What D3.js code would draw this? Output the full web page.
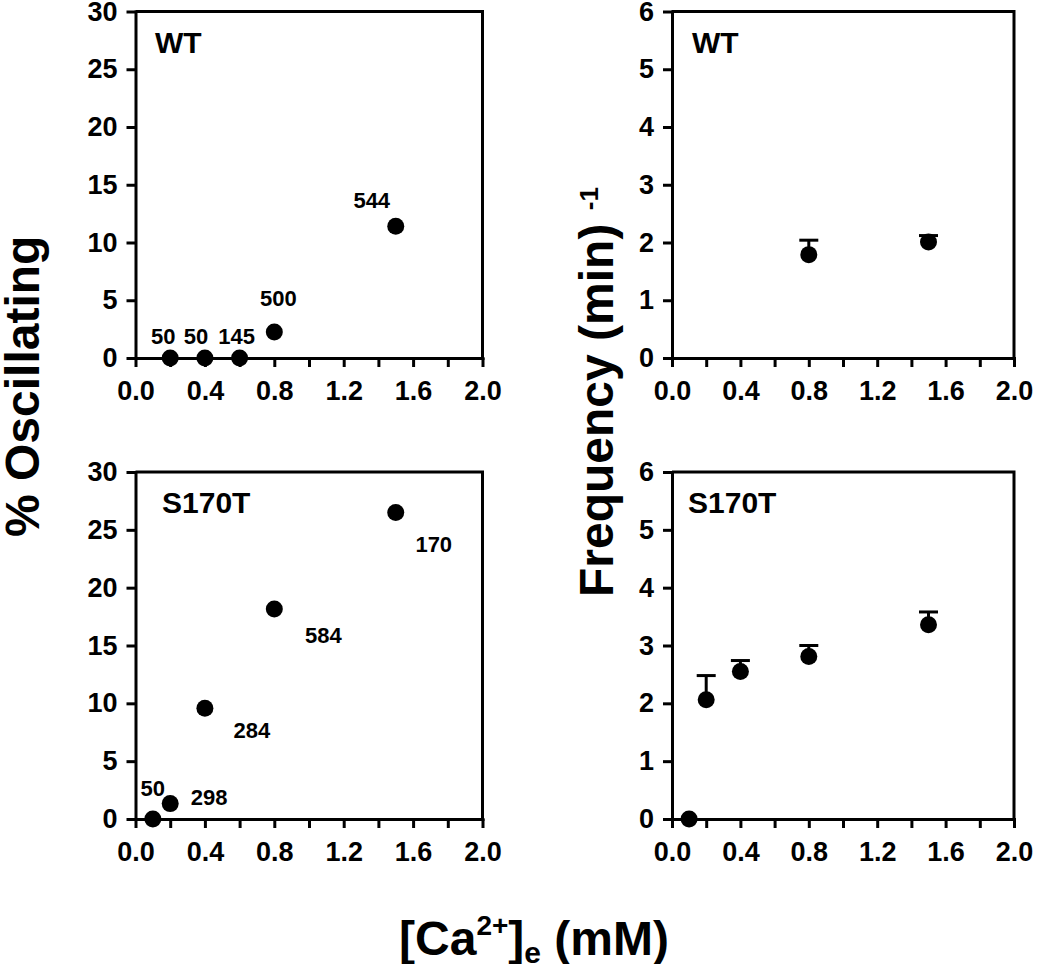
<!DOCTYPE html>
<html>
<head>
<meta charset="utf-8">
<script src="https://cdn.jsdelivr.net/npm/d3@7/dist/d3.min.js"></script>
<style>
  html, body { margin: 0; padding: 0; background: #fff; }
  svg { display: block; }
  text { font-family: "Liberation Sans", Arial, Helvetica, sans-serif; font-weight: bold; fill: #000; }
</style>
</head>
<body>
<svg id="chart" width="1050" height="964"></svg>
<script>
// ---- data ----
const xTickValues = [0, 0.2, 0.4, 0.6, 0.8, 1.0, 1.2, 1.4, 1.6, 1.8, 2.0];
const xTickLabels = ["0.0", "", "0.4", "", "0.8", "", "1.2", "", "1.6", "", "2.0"];
const pctTicks = [0, 5, 10, 15, 20, 25, 30];
const freqTicks = [0, 1, 2, 3, 4, 5, 6];

const wtPctX = [0.2, 0.4, 0.6, 0.8, 1.5];
const wtPct = [0, 0, 0, 2.25, 11.4];
const wtN = ["50", "50", "145", "500", "544"];

const s170tPctX = [0.1, 0.2, 0.4, 0.8, 1.5];
const s170tPct = [0, 1.33, 9.57, 18.16, 26.5];
const s170tN = ["50", "298", "284", "584", "170"];

const wtFreqX = [0.8, 1.5];
const wtFreq = [1.79, 2.01];
const wtFreqErr = [0.25, 0.11];

const s170tFreqX = [0.1, 0.2, 0.4, 0.8, 1.5];
const s170tFreq = [0, 2.06, 2.55, 2.81, 3.36];
const s170tFreqErr = [0, 0.42, 0.19, 0.19, 0.22];

// ---- layout (label offsets in px, relative to the point) ----
const wtLabelDx = [-7, -9, -3, 4, -24];
const wtLabelDy = [-22, -22, -22, -34, -26];
const s170tLabelDx = [0, 39, 47, 49, 38];
const s170tLabelDy = [-31, -7, 22, 26, 32];

const svg = d3.select("#chart");
const R = 8.5;

function panel(opts) {
  const x = d3.scaleLinear().domain([0, 2]).range([opts.x0, opts.x1]);
  const y = d3.scaleLinear().domain([0, opts.ymax]).range([opts.y0, opts.y1]);
  const g = svg.append("g");

  // frame top and right
  g.append("path")
    .attr("d", `M${opts.x0},${opts.y1}H${opts.x1}V${opts.y0}`)
    .attr("fill", "none").attr("stroke", "#000").attr("stroke-width", 3);

  const xa = g.append("g").attr("transform", `translate(0,${opts.y0})`)
    .call(d3.axisBottom(x).tickValues(xTickValues).tickSize(9).tickSizeOuter(0)
      .tickPadding(14)
      .tickFormat((d, i) => xTickLabels[i]));
  const ya = g.append("g").attr("transform", `translate(${opts.x0},0)`)
    .call(d3.axisLeft(y).tickValues(opts.yTicks).tickSize(9).tickSizeOuter(0)
      .tickPadding(9).tickFormat(d3.format("d")));
  [xa, ya].forEach(a => {
    a.select(".domain").attr("stroke-width", 3).attr("stroke-linecap", "square");
    a.selectAll(".tick line").attr("stroke-width", 3);
    a.selectAll(".tick text").style("font-size", "27px").style("font-weight", "bold")
      .style("font-family", '"Liberation Sans", Arial, sans-serif').attr("fill", "#000");
  });

  // title
  g.append("text").attr("x", opts.titleX).attr("y", opts.titleY)
    .style("font-size", "30px").text(opts.title);

  const xs = opts.xs, ys = opts.ys;
  // error bars (upward)
  if (opts.err) {
    xs.forEach((xv, i) => {
      if (!opts.err[i]) return;
      const cx = x(xv), top = y(ys[i] + opts.err[i]);
      g.append("line").attr("x1", cx).attr("x2", cx).attr("y1", y(ys[i])).attr("y2", top)
        .attr("stroke", "#000").attr("stroke-width", 3);
      g.append("line").attr("x1", cx - 9.5).attr("x2", cx + 9.5).attr("y1", top).attr("y2", top)
        .attr("stroke", "#000").attr("stroke-width", 3);
    });
  }
  g.selectAll("circle.pt").data(xs).enter().append("circle")
    .attr("class", "pt")
    .attr("cx", d => x(d)).attr("cy", (d, i) => y(ys[i])).attr("r", R).attr("fill", "#000");

  if (opts.labels) {
    xs.forEach((xv, i) => {
      g.append("text")
        .attr("x", x(xv) + opts.ldx[i]).attr("y", y(ys[i]) + opts.ldy[i])
        .attr("dy", "0.36em").attr("text-anchor", "middle")
        .style("font-size", "22px").text(opts.labels[i]);
    });
  }
}

panel({ x0: 135.5, x1: 482.5, y0: 358, y1: 11.5, ymax: 30, yTicks: pctTicks,
  title: "WT", titleX: 155, titleY: 53, xs: wtPctX, ys: wtPct,
  labels: wtN, ldx: wtLabelDx, ldy: wtLabelDy });
panel({ x0: 672, x1: 1014, y0: 358, y1: 11.5, ymax: 6, yTicks: freqTicks,
  title: "WT", titleX: 692, titleY: 53, xs: wtFreqX, ys: wtFreq, err: wtFreqErr });
panel({ x0: 135.5, x1: 482.5, y0: 819, y1: 472, ymax: 30, yTicks: pctTicks,
  title: "S170T", titleX: 162, titleY: 513, xs: s170tPctX, ys: s170tPct,
  labels: s170tN, ldx: s170tLabelDx, ldy: s170tLabelDy });
panel({ x0: 672, x1: 1014, y0: 819, y1: 472, ymax: 6, yTicks: freqTicks,
  title: "S170T", titleX: 688, titleY: 513, xs: s170tFreqX, ys: s170tFreq, err: s170tFreqErr });

// axis titles
svg.append("text").attr("transform", "translate(39,537) rotate(-90)")
  .attr("text-anchor", "start").style("font-size", "48px").text("% Oscillating");

const ft = svg.append("text").attr("transform", "translate(613,597) rotate(-90)")
  .attr("text-anchor", "start").style("font-size", "48px");
ft.append("tspan").text("Frequency (min) ");
ft.append("tspan").attr("dy", -15).style("font-size", "26px").text("-1");

const xt = svg.append("text").attr("x", 534).attr("y", 955)
  .attr("text-anchor", "middle").style("font-size", "48px");
xt.append("tspan").text("[Ca");
xt.append("tspan").attr("dy", -20).style("font-size", "28px").text("2+");
xt.append("tspan").attr("dy", 20).text("]");
xt.append("tspan").attr("dy", 8).style("font-size", "30px").text("e");
xt.append("tspan").attr("dy", -8).text(" (mM)");
</script>
</body>
</html>
